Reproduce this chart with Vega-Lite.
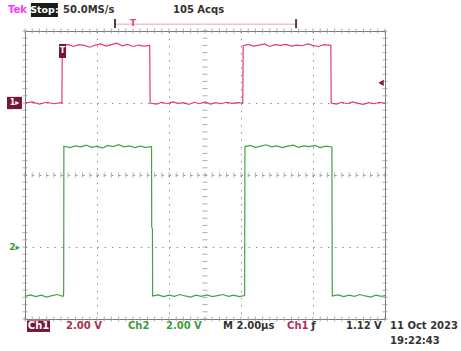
{
  "$schema": "https://vega.github.io/schema/vega-lite/v6.json",
  "width": 360,
  "height": 288,
  "autosize": {"type": "none"},
  "padding": {"left": 25, "top": 31, "right": 76, "bottom": 32},
  "background": "white",
  "config": {
    "view": {"stroke": "#7a7a7a", "strokeWidth": 1},
    "axis": {"labels": false, "ticks": false, "domain": false, "title": null, "grid": true, "gridColor": "#8f8f8f", "gridDash": [1.5, 5.7], "gridWidth": 1},
    "text": {"font": "DejaVu Sans", "fontWeight": "bold", "fontSize": 10, "baseline": "middle", "align": "left"}
  },
  "datasets": {
    "red": [
      {"t": -10, "v": 2.0}, {"t": -9.6, "v": 2.03}, {"t": -9.2, "v": 1.97}, {"t": -8.8, "v": 2.02}, {"t": -8.4, "v": 1.98}, {"t": -8.0, "v": 2.01}, {"t": -7.95, "v": 2.0},
      {"t": -7.93, "v": 3.58}, {"t": -7.6, "v": 3.63}, {"t": -7.3, "v": 3.57}, {"t": -7.0, "v": 3.62}, {"t": -6.7, "v": 3.6}, {"t": -6.4, "v": 3.55}, {"t": -6.1, "v": 3.61}, {"t": -5.8, "v": 3.64}, {"t": -5.5, "v": 3.58}, {"t": -5.2, "v": 3.62}, {"t": -4.9, "v": 3.66}, {"t": -4.6, "v": 3.59}, {"t": -4.3, "v": 3.63}, {"t": -4.0, "v": 3.57}, {"t": -3.7, "v": 3.61}, {"t": -3.4, "v": 3.58}, {"t": -3.07, "v": 3.6},
      {"t": -3.05, "v": 2.0}, {"t": -2.7, "v": 1.97}, {"t": -2.4, "v": 2.02}, {"t": -2.1, "v": 1.98}, {"t": -1.8, "v": 2.03}, {"t": -1.5, "v": 1.99}, {"t": -1.2, "v": 2.01}, {"t": -0.9, "v": 1.96}, {"t": -0.6, "v": 2.02}, {"t": -0.3, "v": 1.98}, {"t": 0.0, "v": 2.03}, {"t": 0.3, "v": 1.97}, {"t": 0.6, "v": 2.01}, {"t": 0.9, "v": 1.98}, {"t": 1.2, "v": 2.02}, {"t": 1.5, "v": 1.99}, {"t": 1.8, "v": 2.01}, {"t": 2.1, "v": 2.0},
      {"t": 2.12, "v": 3.59}, {"t": 2.4, "v": 3.63}, {"t": 2.7, "v": 3.58}, {"t": 3.0, "v": 3.61}, {"t": 3.3, "v": 3.64}, {"t": 3.6, "v": 3.57}, {"t": 3.9, "v": 3.62}, {"t": 4.2, "v": 3.6}, {"t": 4.5, "v": 3.63}, {"t": 4.8, "v": 3.58}, {"t": 5.1, "v": 3.61}, {"t": 5.4, "v": 3.59}, {"t": 5.7, "v": 3.64}, {"t": 6.0, "v": 3.6}, {"t": 6.3, "v": 3.57}, {"t": 6.6, "v": 3.62}, {"t": 6.99, "v": 3.6},
      {"t": 7.01, "v": 2.0}, {"t": 7.3, "v": 1.97}, {"t": 7.6, "v": 2.02}, {"t": 7.9, "v": 1.98}, {"t": 8.2, "v": 2.03}, {"t": 8.5, "v": 1.99}, {"t": 8.8, "v": 1.96}, {"t": 9.1, "v": 2.01}, {"t": 9.4, "v": 1.98}, {"t": 9.7, "v": 2.02}, {"t": 10, "v": 1.99}
    ],
    "green": [
      {"t": -10, "v": -3.37}, {"t": -9.7, "v": -3.33}, {"t": -9.4, "v": -3.38}, {"t": -9.1, "v": -3.34}, {"t": -8.8, "v": -3.39}, {"t": -8.5, "v": -3.35}, {"t": -8.2, "v": -3.32}, {"t": -7.9, "v": -3.37}, {"t": -7.86, "v": -3.36}, {"t": -7.85, "v": -3.14},
      {"t": -7.84, "v": 0.8}, {"t": -7.5, "v": 0.76}, {"t": -7.2, "v": 0.81}, {"t": -6.9, "v": 0.78}, {"t": -6.6, "v": 0.83}, {"t": -6.3, "v": 0.77}, {"t": -6.0, "v": 0.8}, {"t": -5.7, "v": 0.75}, {"t": -5.4, "v": 0.82}, {"t": -5.1, "v": 0.79}, {"t": -4.8, "v": 0.84}, {"t": -4.5, "v": 0.78}, {"t": -4.2, "v": 0.81}, {"t": -3.9, "v": 0.76}, {"t": -3.6, "v": 0.8}, {"t": -3.3, "v": 0.77}, {"t": -2.97, "v": 0.79},
      {"t": -2.96, "v": -1.45}, {"t": -2.92, "v": -1.5}, {"t": -2.91, "v": -3.36}, {"t": -2.6, "v": -3.33}, {"t": -2.3, "v": -3.38}, {"t": -2.0, "v": -3.34}, {"t": -1.7, "v": -3.37}, {"t": -1.4, "v": -3.32}, {"t": -1.1, "v": -3.36}, {"t": -0.8, "v": -3.39}, {"t": -0.5, "v": -3.34}, {"t": -0.2, "v": -3.37}, {"t": 0.1, "v": -3.33}, {"t": 0.4, "v": -3.38}, {"t": 0.7, "v": -3.35}, {"t": 1.0, "v": -3.32}, {"t": 1.3, "v": -3.37}, {"t": 1.6, "v": -3.34}, {"t": 1.9, "v": -3.38}, {"t": 2.2, "v": -3.35},
      {"t": 2.22, "v": 0.79}, {"t": 2.5, "v": 0.82}, {"t": 2.8, "v": 0.77}, {"t": 3.1, "v": 0.8}, {"t": 3.4, "v": 0.84}, {"t": 3.7, "v": 0.78}, {"t": 4.0, "v": 0.81}, {"t": 4.3, "v": 0.76}, {"t": 4.6, "v": 0.8}, {"t": 4.9, "v": 0.83}, {"t": 5.2, "v": 0.77}, {"t": 5.5, "v": 0.81}, {"t": 5.8, "v": 0.79}, {"t": 6.1, "v": 0.82}, {"t": 6.4, "v": 0.76}, {"t": 6.7, "v": 0.8}, {"t": 7.05, "v": 0.78},
      {"t": 7.07, "v": -3.36}, {"t": 7.4, "v": -3.33}, {"t": 7.7, "v": -3.38}, {"t": 8.0, "v": -3.34}, {"t": 8.3, "v": -3.37}, {"t": 8.6, "v": -3.32}, {"t": 8.9, "v": -3.36}, {"t": 9.2, "v": -3.39}, {"t": 9.5, "v": -3.34}, {"t": 9.8, "v": -3.37}, {"t": 10, "v": -3.35}
    ],
    "xt": [
      {"t": -10}, {"t": -9.6}, {"t": -9.2}, {"t": -8.8}, {"t": -8.4}, {"t": -8}, {"t": -7.6}, {"t": -7.2}, {"t": -6.8}, {"t": -6.4}, {"t": -6}, {"t": -5.6}, {"t": -5.2}, {"t": -4.8}, {"t": -4.4}, {"t": -4}, {"t": -3.6}, {"t": -3.2}, {"t": -2.8}, {"t": -2.4}, {"t": -2}, {"t": -1.6}, {"t": -1.2}, {"t": -0.8}, {"t": -0.4}, {"t": 0}, {"t": 0.4}, {"t": 0.8}, {"t": 1.2}, {"t": 1.6}, {"t": 2}, {"t": 2.4}, {"t": 2.8}, {"t": 3.2}, {"t": 3.6}, {"t": 4}, {"t": 4.4}, {"t": 4.8}, {"t": 5.2}, {"t": 5.6}, {"t": 6}, {"t": 6.4}, {"t": 6.8}, {"t": 7.2}, {"t": 7.6}, {"t": 8}, {"t": 8.4}, {"t": 8.8}, {"t": 9.2}, {"t": 9.6}, {"t": 10}
    ],
    "yt": [
      {"v": -4}, {"v": -3.8}, {"v": -3.6}, {"v": -3.4}, {"v": -3.2}, {"v": -3}, {"v": -2.8}, {"v": -2.6}, {"v": -2.4}, {"v": -2.2}, {"v": -2}, {"v": -1.8}, {"v": -1.6}, {"v": -1.4}, {"v": -1.2}, {"v": -1}, {"v": -0.8}, {"v": -0.6}, {"v": -0.4}, {"v": -0.2}, {"v": 0}, {"v": 0.2}, {"v": 0.4}, {"v": 0.6}, {"v": 0.8}, {"v": 1}, {"v": 1.2}, {"v": 1.4}, {"v": 1.6}, {"v": 1.8}, {"v": 2}, {"v": 2.2}, {"v": 2.4}, {"v": 2.6}, {"v": 2.8}, {"v": 3}, {"v": 3.2}, {"v": 3.4}, {"v": 3.6}, {"v": 3.8}, {"v": 4}
    ]
  },
  "layer": [
    {
      "data": {"name": "xt"},
      "mark": {"type": "tick", "orient": "vertical", "size": 5, "thickness": 1, "color": "#8a8a8a"},
      "encoding": {
        "x": {"field": "t", "type": "quantitative", "scale": {"domain": [-10, 10], "nice": false, "zero": false}, "axis": {"values": [-10, -8, -6, -4, -2, 0, 2, 4, 6, 8, 10]}},
        "y": {"datum": 0, "type": "quantitative", "scale": {"domain": [-4, 4], "nice": false, "zero": false}, "axis": {"values": [-4, -3, -2, -1, 0, 1, 2, 3, 4]}}
      }
    },
    {
      "data": {"name": "xt"},
      "mark": {"type": "tick", "orient": "vertical", "size": 5, "thickness": 1, "color": "#8a8a8a"},
      "encoding": {"x": {"field": "t", "type": "quantitative"}, "y": {"datum": 4, "type": "quantitative"}}
    },
    {
      "data": {"name": "xt"},
      "mark": {"type": "tick", "orient": "vertical", "size": 5, "thickness": 1, "color": "#8a8a8a"},
      "encoding": {"x": {"field": "t", "type": "quantitative"}, "y": {"datum": -4, "type": "quantitative"}}
    },
    {
      "data": {"name": "yt"},
      "mark": {"type": "tick", "orient": "horizontal", "size": 5, "thickness": 1, "color": "#8a8a8a"},
      "encoding": {"y": {"field": "v", "type": "quantitative"}, "x": {"datum": 0, "type": "quantitative"}}
    },
    {
      "data": {"name": "yt"},
      "mark": {"type": "tick", "orient": "horizontal", "size": 5, "thickness": 1, "color": "#8a8a8a"},
      "encoding": {"y": {"field": "v", "type": "quantitative"}, "x": {"datum": -10, "type": "quantitative"}}
    },
    {
      "data": {"name": "yt"},
      "mark": {"type": "tick", "orient": "horizontal", "size": 5, "thickness": 1, "color": "#8a8a8a"},
      "encoding": {"y": {"field": "v", "type": "quantitative"}, "x": {"datum": 10, "type": "quantitative"}}
    },
    {
      "data": {"name": "red"},
      "mark": {"type": "line", "color": "#e23b72", "strokeWidth": 1.2},
      "encoding": {"x": {"field": "t", "type": "quantitative"}, "y": {"field": "v", "type": "quantitative"}}
    },
    {
      "data": {"name": "green"},
      "mark": {"type": "line", "color": "#45a048", "strokeWidth": 1.2},
      "encoding": {"x": {"field": "t", "type": "quantitative"}, "y": {"field": "v", "type": "quantitative"}}
    },
    {
      "data": {"values": [{}]},
      "mark": {"type": "rule", "color": "#e8a3b6", "strokeWidth": 1},
      "encoding": {"x": {"datum": -5.0, "type": "quantitative"}, "x2": {"datum": 5.06}, "y": {"datum": 4.19, "type": "quantitative"}}
    },
    {
      "data": {"values": [{}]},
      "mark": {"type": "rule", "color": "#5a3a44", "strokeWidth": 2},
      "encoding": {"x": {"datum": -5.0, "type": "quantitative"}, "y": {"datum": 4.08, "type": "quantitative"}, "y2": {"datum": 4.33}}
    },
    {
      "data": {"values": [{}]},
      "mark": {"type": "rule", "color": "#5a3a44", "strokeWidth": 2},
      "encoding": {"x": {"datum": 5.06, "type": "quantitative"}, "y": {"datum": 4.08, "type": "quantitative"}, "y2": {"datum": 4.33}}
    },
    {
      "data": {"values": [{"s": "T"}]},
      "mark": {"type": "text", "color": "#d84a78", "fontSize": 9, "align": "center"},
      "encoding": {"x": {"datum": -4.0, "type": "quantitative"}, "y": {"datum": 4.22, "type": "quantitative"}, "text": {"field": "s"}}
    },
    {
      "data": {"values": [{"s": "Tek"}]},
      "mark": {"type": "text", "color": "#ff33ff"},
      "encoding": {"x": {"datum": -10.94, "type": "quantitative"}, "y": {"datum": 4.58, "type": "quantitative"}, "text": {"field": "s"}}
    },
    {
      "data": {"values": [{}]},
      "mark": {"type": "rect", "color": "#1a1a1a"},
      "encoding": {"x": {"datum": -9.67, "type": "quantitative"}, "x2": {"datum": -8.17}, "y": {"datum": 4.78, "type": "quantitative"}, "y2": {"datum": 4.39}}
    },
    {
      "data": {"values": [{"s": "Stop:"}]},
      "mark": {"type": "text", "color": "white", "align": "center", "fontSize": 9.5},
      "encoding": {"x": {"datum": -8.92, "type": "quantitative"}, "y": {"datum": 4.58, "type": "quantitative"}, "text": {"field": "s"}}
    },
    {
      "data": {"values": [{"s": "50.0MS/s"}]},
      "mark": {"type": "text", "color": "#333333"},
      "encoding": {"x": {"datum": -7.89, "type": "quantitative"}, "y": {"datum": 4.58, "type": "quantitative"}, "text": {"field": "s"}}
    },
    {
      "data": {"values": [{"s": "105 Acqs"}]},
      "mark": {"type": "text", "color": "#333333"},
      "encoding": {"x": {"datum": -1.78, "type": "quantitative"}, "y": {"datum": 4.58, "type": "quantitative"}, "text": {"field": "s"}}
    },
    {
      "data": {"values": [{}]},
      "mark": {"type": "rect", "color": "#7b1538"},
      "encoding": {"x": {"datum": -9.89, "type": "quantitative"}, "x2": {"datum": -8.61}, "y": {"datum": -4.04, "type": "quantitative"}, "y2": {"datum": -4.36}}
    },
    {
      "data": {"values": [{"s": "Ch1"}]},
      "mark": {"type": "text", "color": "white", "align": "center"},
      "encoding": {"x": {"datum": -9.25, "type": "quantitative"}, "y": {"datum": -4.2, "type": "quantitative"}, "text": {"field": "s"}}
    },
    {
      "data": {"values": [{"s": "2.00 V"}]},
      "mark": {"type": "text", "color": "#a3304f"},
      "encoding": {"x": {"datum": -7.72, "type": "quantitative"}, "y": {"datum": -4.2, "type": "quantitative"}, "text": {"field": "s"}}
    },
    {
      "data": {"values": [{"s": "Ch2"}]},
      "mark": {"type": "text", "color": "#3f9a3f"},
      "encoding": {"x": {"datum": -4.28, "type": "quantitative"}, "y": {"datum": -4.2, "type": "quantitative"}, "text": {"field": "s"}}
    },
    {
      "data": {"values": [{"s": "2.00 V"}]},
      "mark": {"type": "text", "color": "#3f9a3f"},
      "encoding": {"x": {"datum": -2.17, "type": "quantitative"}, "y": {"datum": -4.2, "type": "quantitative"}, "text": {"field": "s"}}
    },
    {
      "data": {"values": [{"s": "M 2.00µs"}]},
      "mark": {"type": "text", "color": "#333333"},
      "encoding": {"x": {"datum": 1.0, "type": "quantitative"}, "y": {"datum": -4.2, "type": "quantitative"}, "text": {"field": "s"}}
    },
    {
      "data": {"values": [{"s": "Ch1"}]},
      "mark": {"type": "text", "color": "#b03058"},
      "encoding": {"x": {"datum": 4.56, "type": "quantitative"}, "y": {"datum": -4.2, "type": "quantitative"}, "text": {"field": "s"}}
    },
    {
      "data": {"values": [{"s": "ƒ"}]},
      "mark": {"type": "text", "color": "#333333"},
      "encoding": {"x": {"datum": 5.9, "type": "quantitative"}, "y": {"datum": -4.2, "type": "quantitative"}, "text": {"field": "s"}}
    },
    {
      "data": {"values": [{"s": "1.12 V"}]},
      "mark": {"type": "text", "color": "#333333"},
      "encoding": {"x": {"datum": 7.83, "type": "quantitative"}, "y": {"datum": -4.2, "type": "quantitative"}, "text": {"field": "s"}}
    },
    {
      "data": {"values": [{"s": "11 Oct 2023"}]},
      "mark": {"type": "text", "color": "#333333"},
      "encoding": {"x": {"datum": 10.28, "type": "quantitative"}, "y": {"datum": -4.2, "type": "quantitative"}, "text": {"field": "s"}}
    },
    {
      "data": {"values": [{"s": "19:22:43"}]},
      "mark": {"type": "text", "color": "#333333"},
      "encoding": {"x": {"datum": 10.28, "type": "quantitative"}, "y": {"datum": -4.6, "type": "quantitative"}, "text": {"field": "s"}}
    },
    {
      "data": {"values": [{}]},
      "mark": {"type": "rect", "color": "#7b1538"},
      "encoding": {"x": {"datum": -11.0, "type": "quantitative"}, "x2": {"datum": -10.17}, "y": {"datum": 2.17, "type": "quantitative"}, "y2": {"datum": 1.83}}
    },
    {
      "data": {"values": [{"s": "1▸"}]},
      "mark": {"type": "text", "color": "white", "align": "center", "fontSize": 8},
      "encoding": {"x": {"datum": -10.58, "type": "quantitative"}, "y": {"datum": 2.0, "type": "quantitative"}, "text": {"field": "s"}}
    },
    {
      "data": {"values": [{"s": "2▸"}]},
      "mark": {"type": "text", "color": "#3f9a3f", "align": "center", "fontSize": 9},
      "encoding": {"x": {"datum": -10.58, "type": "quantitative"}, "y": {"datum": -2.0, "type": "quantitative"}, "text": {"field": "s"}}
    },
    {
      "data": {"values": [{}]},
      "mark": {"type": "rect", "color": "#7b1538"},
      "encoding": {"x": {"datum": -8.11, "type": "quantitative"}, "x2": {"datum": -7.72}, "y": {"datum": 3.64, "type": "quantitative"}, "y2": {"datum": 3.25}}
    },
    {
      "data": {"values": [{"s": "T"}]},
      "mark": {"type": "text", "color": "white", "align": "center", "fontSize": 8},
      "encoding": {"x": {"datum": -7.92, "type": "quantitative"}, "y": {"datum": 3.45, "type": "quantitative"}, "text": {"field": "s"}}
    },
    {
      "data": {"values": [{}]},
      "mark": {"type": "point", "shape": "triangle-left", "filled": true, "color": "#8b1a3a", "size": 40, "opacity": 1},
      "encoding": {"x": {"datum": 9.78, "type": "quantitative"}, "y": {"datum": 2.56, "type": "quantitative"}}
    }
  ]
}
